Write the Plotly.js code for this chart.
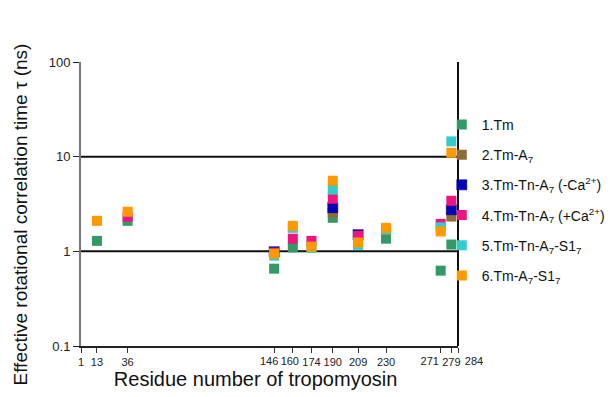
<!DOCTYPE html>
<html>
<head>
<meta charset="utf-8">
<script src="https://cdn.plot.ly/plotly-3.0.1.min.js"></script>
<style>html,body{margin:0;padding:0;background:#fff}#chart{width:610px;height:397px}</style>
</head>
<body>
<div id="chart"></div>
<script>
var tickVals = [1, 13, 36, 146, 160, 174, 190, 209, 230, 271, 279, 284];
var tickLabels = ['1', '13', '36', '146', '160', '174', '190', '209', '230', '271', '279', '284'];
var seriesNames = ['1.Tm', '2.Tm-A<sub>7</sub>', '3.Tm-Tn-A<sub>7</sub> (-Ca<sup>2+</sup>)', '4.Tm-Tn-A<sub>7</sub> (+Ca<sup>2+</sup>)', '5.Tm-Tn-A<sub>7</sub>-S1<sub>7</sub>', '6.Tm-A<sub>7</sub>-S1<sub>7</sub>'];
var colors = ['#339966', '#8c6d3a', '#0000cc', '#f0147f', '#33cccc', '#ff9900'];

var tmX = [13, 36, 146, 160, 190, 230, 271, 279];
var tmY = [1.29, 2.10, 0.656, 1.10, 2.26, 1.36, 0.625, 1.18];

var tmA7X = [190, 230, 279];
var tmA7Y = [2.55, 1.64, 2.33];

var tnMinusCaX = [146, 190, 209, 279];
var tnMinusCaY = [0.99, 2.89, 1.50, 2.75];

var tnPlusCaX = [36, 146, 160, 174, 190, 209, 271, 279];
var tnPlusCaY = [2.32, 0.97, 1.36, 1.29, 3.59, 1.46, 1.95, 3.42];

var tnS1X = [146, 160, 174, 190, 209, 230, 271, 279];
var tnS1Y = [0.90, 1.77, 1.09, 4.48, 1.17, 1.69, 1.79, 14.5];

var a7S1X = [13, 36, 146, 160, 174, 190, 209, 230, 271, 279];
var a7S1Y = [2.10, 2.62, 0.945, 1.86, 1.12, 5.57, 1.24, 1.77, 1.62, 11.0];

var xs = [tmX, tmA7X, tnMinusCaX, tnPlusCaX, tnS1X, a7S1X];
var ys = [tmY, tmA7Y, tnMinusCaY, tnPlusCaY, tnS1Y, a7S1Y];

var NB = '\u00a0';
function pad(n) { return new Array(n + 1).join(NB) + '\u200b'; }

// crowded tick labels are drawn on overlay axes with a small pixel shift
var labelShifts = {'146': -5, '160': -3, '271': -11, '284': 16};
var mainTickText = tickLabels.map(function(t) { return (t in labelShifts) ? '' : t; });

var traces = xs.map(function(x, i) {
  return {
    type: 'scatter', mode: 'markers', x: x, y: ys[i], name: seriesNames[i],
    legendgroup: 'g' + i,
    cliponaxis: false,
    marker: {
      symbol: i === 2 ? 'square-x' : 'square', size: 10, color: colors[i],
      line: i === 2 ? {color: '#000066', width: 0.6} : {width: 0}
    }
  };
});

var tickFont = {size: 11, color: '#222'};
var layout = {
  width: 610, height: 397,
  margin: {l: 81, r: 152, t: 62, b: 51, autoexpand: false},
  paper_bgcolor: '#fff', plot_bgcolor: '#fff',
  font: {family: 'Liberation Sans, Arial, sans-serif', color: '#222'},
  showlegend: true,
  legend: {
    x: 0.957, xanchor: 'left', y: 0.835, yanchor: 'top',
    font: {size: 14, color: '#111'}, tracegroupgap: 9, traceorder: 'grouped',
    bgcolor: 'rgba(0,0,0,0)'
  },
  xaxis: {
    type: 'linear', range: [1, 284], tickmode: 'array', tickvals: tickVals,
    ticktext: mainTickText, tickangle: 0, automargin: false,
    ticks: 'outside', ticklen: 5, tickcolor: '#333', tickwidth: 1,
    showline: true, linecolor: '#222', linewidth: 1.5,
    showgrid: false, zeroline: false,
    tickfont: tickFont,
    title: {text: 'Residue number of tropomyosin' + pad(5), font: {size: 20, color: '#111'}, standoff: 5}
  },
  yaxis: {
    type: 'log', range: [-1, 2], tickmode: 'array', tickvals: [0.1, 1, 10, 100],
    ticktext: ['0.1', '1', '10', '100'], automargin: false,
    ticks: 'outside', ticklen: 6, tickcolor: '#222', tickwidth: 1,
    showline: true, linecolor: '#777', linewidth: 2,
    showgrid: false, zeroline: false,
    tickfont: {size: 13, color: '#222'},
    title: {text: 'Effective rotational correlation time τ (ns)' + pad(4), font: {size: 19, color: '#111'}, standoff: 16}
  },
  shapes: [
    {type: 'line', xref: 'paper', yref: 'y', x0: 0, x1: 1, y0: 1, y1: 1, line: {color: '#111', width: 2}, layer: 'below'},
    {type: 'line', xref: 'paper', yref: 'y', x0: 0, x1: 1, y0: 10, y1: 10, line: {color: '#111', width: 2}, layer: 'below'},
    {type: 'line', xref: 'paper', yref: 'paper', x0: 1, x1: 1, y0: 0, y1: 1, line: {color: '#111', width: 2}, layer: 'above'}
  ]
};

Object.keys(labelShifts).forEach(function(t, k) {
  var axName = 'xaxis' + (k + 2);
  layout[axName] = {
    type: 'linear', range: [1, 284], overlaying: 'x', anchor: 'y', side: 'bottom',
    tickmode: 'array', tickvals: [Number(t)], ticktext: [t], tickangle: 0, automargin: false,
    ticks: 'outside', ticklen: 5, tickcolor: 'rgba(0,0,0,0)', ticklabelshift: labelShifts[t],
    showline: false, showgrid: false, zeroline: false, tickfont: tickFont
  };
  traces.push({type: 'scatter', mode: 'markers', x: [], y: [], xaxis: 'x' + (k + 2), yaxis: 'y', showlegend: false, hoverinfo: 'skip'});
});

Plotly.newPlot('chart', traces, layout, {displayModeBar: false, staticPlot: true});
</script>
</body>
</html>
